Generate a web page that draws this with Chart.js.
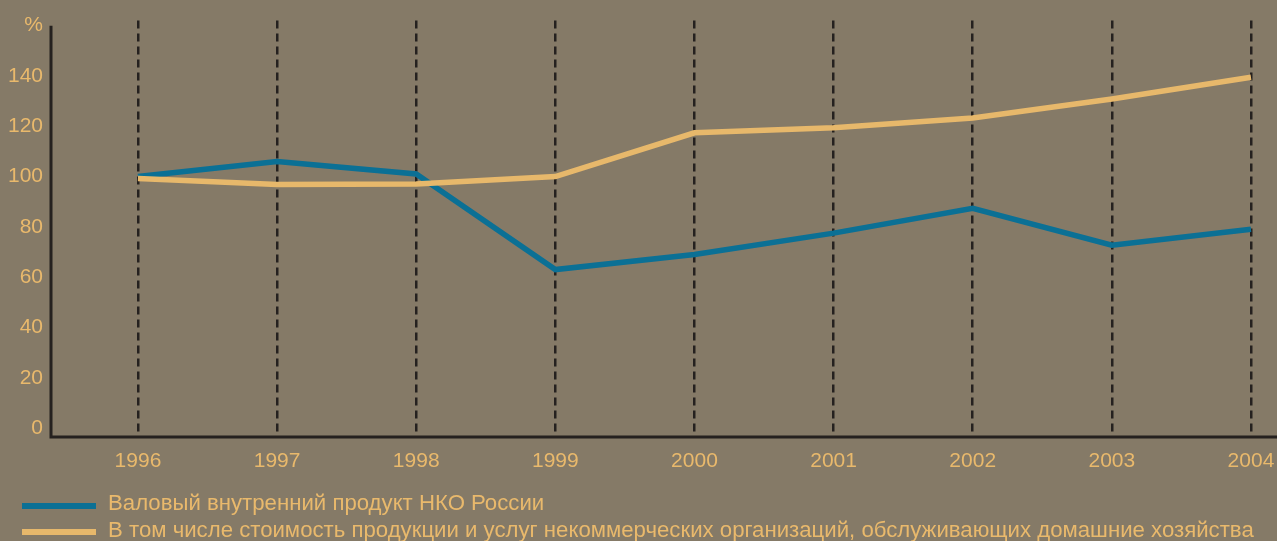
<!DOCTYPE html>
<html><head><meta charset="utf-8">
<script src="https://cdn.jsdelivr.net/npm/chart.js@4/dist/chart.umd.min.js"></script>
<style>html,body{margin:0;padding:0;background:#857a67;}#wrap{width:1277px;height:541px;}</style>
</head><body><div id="wrap"><canvas id="c" width="1277" height="541"></canvas></div>
<script>
const years = [1996, 1997, 1998, 1999, 2000, 2001, 2002, 2003, 2004];
const gdpNko = [100, 106, 101, 63, 69, 77.5, 87.4, 72.7, 79];
const householdNko = [99.2, 96.8, 97, 100, 117.4, 119.4, 123.3, 130.8, 139.5];
const yTicks = [0, 20, 40, 60, 80, 100, 120, 140, 160];
const seriesNames = ['Валовый внутренний продукт НКО России',
  'В том числе стоимость продукции и услуг некоммерческих организаций, обслуживающих домашние хозяйства'];
const FONT = '"Liberation Sans", Arial, sans-serif';
const TXT = '#e9b96c';

const axesPlugin = {
  id: 'axesAndLegend',
  afterDraw(chart) {
    const ctx = chart.ctx, y = chart.scales.y, a = chart.chartArea;
    ctx.save();
    ctx.strokeStyle = '#25211f'; ctx.lineWidth = 3; ctx.setLineDash([]);
    ctx.beginPath();
    ctx.moveTo(a.left, y.getPixelForValue(160)); ctx.lineTo(a.left, a.bottom);
    ctx.lineTo(a.right, a.bottom);
    ctx.stroke();
    const lineY = [506, 532], baseY = [510, 537];
    chart.data.datasets.forEach((ds, i) => {
      ctx.strokeStyle = ds.borderColor; ctx.lineWidth = 6;
      ctx.beginPath(); ctx.moveTo(22, lineY[i]); ctx.lineTo(96, lineY[i]); ctx.stroke();
      ctx.fillStyle = TXT; ctx.font = '22.2px ' + FONT; ctx.textBaseline = 'alphabetic'; ctx.textAlign = 'left';
      ctx.fillText(ds.label, 108, baseY[i]);
    });
    ctx.restore();
  }
};

new Chart(document.getElementById('c'), {
  type: 'line',
  data: {
    datasets: [
      { label: seriesNames[0], data: years.map((yr, i) => ({x: yr, y: gdpNko[i]})), borderColor: '#0b7095', borderWidth: 5.5, pointRadius: 0, tension: 0, order: 2 },
      { label: seriesNames[1], data: years.map((yr, i) => ({x: yr, y: householdNko[i]})), borderColor: '#e7b86b', borderWidth: 5.5, pointRadius: 0, tension: 0, order: 1 }
    ]
  },
  options: {
    responsive: false, animation: false, devicePixelRatio: 1,
    layout: { padding: { top: 0, right: 0, bottom: 64, left: 0 } },
    plugins: { legend: { display: false }, tooltip: { enabled: false } },
    scales: {
      x: {
        type: 'linear', min: 1995.375, max: 2004.187,
        afterBuildTicks: s => { s.ticks = years.map(v => ({value: v})); },
        afterFit: s => { s.height = 40; s.paddingLeft = 0; s.paddingRight = 0; },
        border: { display: false, dash: [8, 5] },
        grid: { color: '#25211f', lineWidth: 2.5, drawTicks: false },
        ticks: { color: TXT, font: { family: FONT, size: 21 }, padding: 12, callback: v => String(v), maxRotation: 0, autoSkip: false }
      },
      y: {
        min: -3.56, max: 162,
        afterBuildTicks: s => { s.ticks = yTicks.map(v => ({value: v})); },
        afterFit: s => { s.width = 51; },
        border: { display: false },
        grid: { display: false, drawTicks: false },
        ticks: { color: TXT, font: { family: FONT, size: 21 }, padding: 8, callback: v => v === 160 ? '%' : String(v) }
      }
    }
  },
  plugins: [axesPlugin]
});
</script>
</body></html>
